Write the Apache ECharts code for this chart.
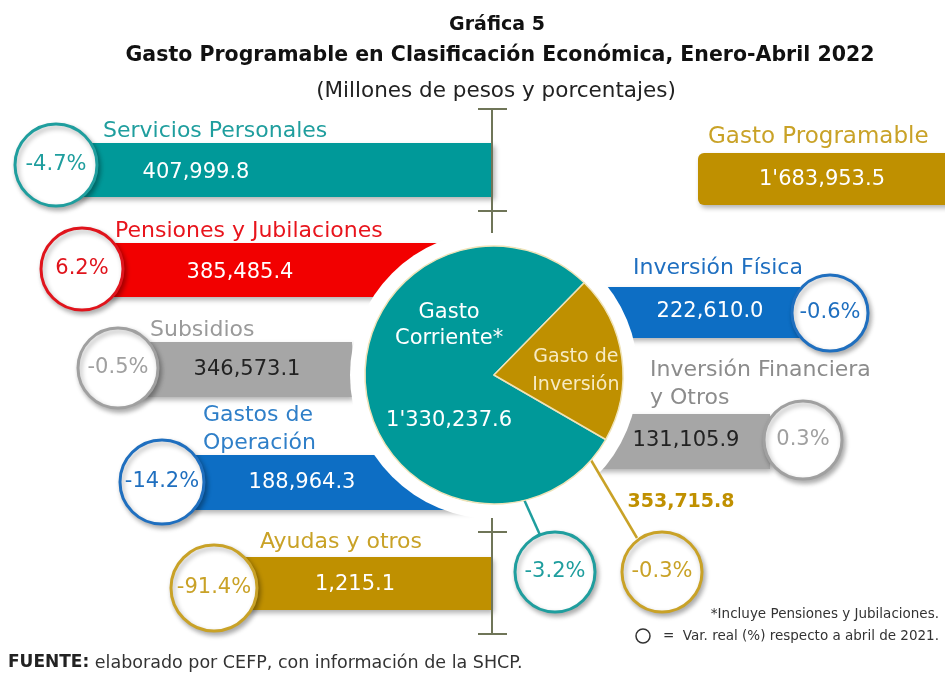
<!DOCTYPE html>
<html>
<head>
<meta charset="utf-8">
<title>Gasto Programable en Clasificación Económica</title>
<script src="https://cdn.jsdelivr.net/npm/echarts@6/dist/echarts.min.js"></script>
<style>
  html, body { margin: 0; padding: 0; background: #fff; }
  #chart { width: 945px; height: 677px; }
</style>
</head>
<body>
<div id="chart"></div>
<script>
// datos: millones de pesos y var. real (%) respecto a abril de 2021
const concepts = ['Servicios Personales', 'Pensiones y Jubilaciones', 'Subsidios', 'Gastos de\nOperación', 'Ayudas y otros', 'Inversión Física', 'Inversión Financiera\ny Otros']
const conceptValues = [407999.8, 385485.4, 346573.1, 188964.3, 1215.1, 222610.0, 131105.9]
const conceptVar = [-4.7, 6.2, -0.5, -14.2, -91.4, -0.6, 0.3]
const groupNames = ['Gasto\nCorriente*', 'Gasto de\nInversión']
const groupValues = [1330237.6, 353715.8]
const groupVar = [-3.2, -0.3]
const totalName = 'Gasto Programable'
const totalValue = 1683953.5

// posiciones de las etiquetas (px)
const barBox = [[60, 143, 433, 54], [90, 243, 390, 54], [130, 342, 222, 55], [180, 455, 290, 55], [230, 557, 262, 53], [560, 287, 240, 51], [560, 414, 210, 55]]
const circlePos = [[56, 165, 41], [82, 269, 41], [118, 368, 40], [162, 482, 42], [214, 588, 43], [830, 313, 38], [803, 440, 39]]
const titlePos = [[103, 131], [115, 231], [150, 330], [203, 429], [260, 542], [633, 268], [650, 384]]
const valuePos = [[196, 173], [240, 273], [247, 370], [302, 483], [355, 585], [710, 312], [686, 441]]
const palette = ['#009999', '#f20000', '#a6a6a6', '#0d6ec4', '#bf9000', '#0d6ec4', '#a6a6a6']
const titleColors = ['#1f9e9e', '#e8141c', '#9a9a9a', '#2f7fc8', '#c9a227', '#1f6fc0', '#8c8c8c']
const valueColors = ['#fff', '#fff', '#222', '#fff', '#fff', '#fff', '#222']
const ringColors = ['#1f9e9e', '#e0141c', '#a0a0a0', '#1f6fbf', '#c9a227', '#1f6fbf', '#a0a0a0']

const FONT = 'DejaVu Sans'
const PIE_C = [494, 375]

const fmtNum = (v) => {
  const [int, dec] = v.toFixed(1).split('.')
  const parts = int.replace(/\B(?=(\d{3})+(?!\d))/g, ',').split(',')
  let s = parts.join(',')
  if (parts.length > 2) s = parts.slice(0, -2).join("'") + "'" + parts.slice(-2).join(',')
  return s + '.' + dec
}
const fmtPct = (v) => v.toFixed(1) + '%'

const shadow = { shadowBlur: 5, shadowOffsetX: 2, shadowOffsetY: 3, shadowColor: 'rgba(0,0,0,0.3)' }

function txt (x, y, text, color, size, opts) {
  return Object.assign({
    type: 'text', z: 7, x: x, y: y,
    style: Object.assign({ text: text, fill: color, fontSize: size, fontFamily: FONT, textAlign: 'center', textVerticalAlign: 'middle' }, (opts && opts.style) || {})
  }, (opts && opts.el) || {})
}

function ring (cx, cy, r, color, label) {
  return [
    { type: 'circle', z: 6, shape: { cx: cx, cy: cy, r: r }, style: Object.assign({ fill: '#fff', stroke: color, lineWidth: 3 }, shadow) },
    txt(cx, cy, label, color, 21)
  ]
}

const elements = []
concepts.forEach((name, i) => {
  const b = barBox[i]
  const c = circlePos[i]
  elements.push({ type: 'rect', z: 0, shape: { x: b[0], y: b[1], width: b[2], height: b[3] }, style: Object.assign({ fill: palette[i] }, shadow) })
  elements.push(txt(valuePos[i][0], valuePos[i][1], fmtNum(conceptValues[i]), valueColors[i], 21))
  elements.push(txt(titlePos[i][0], titlePos[i][1], name, titleColors[i], 22, { style: { textAlign: 'left', lineHeight: 28 } }))
  elements.push(...ring(c[0], c[1], c[2], ringColors[i], fmtPct(conceptVar[i])))
})

// anillo blanco alrededor del pastel
elements.push({ type: 'circle', z: 1, shape: { cx: PIE_C[0], cy: PIE_C[1], r: 144 }, style: { fill: '#fff' } })

// corchetes verticales
const bracketColor = '#6f7558'
;[[108, 233, 109, 211], [518, 635, 532, 634]].forEach(([y1, y2, t1, t2]) => {
  elements.push({ type: 'line', z: 2, shape: { x1: 492, y1: y1, x2: 492, y2: y2 }, style: { stroke: bracketColor, lineWidth: 2 } })
  elements.push({ type: 'line', z: 2, shape: { x1: 478, y1: t1, x2: 507, y2: t1 }, style: { stroke: bracketColor, lineWidth: 2 } })
  elements.push({ type: 'line', z: 2, shape: { x1: 478, y1: t2, x2: 507, y2: t2 }, style: { stroke: bracketColor, lineWidth: 2 } })
})

// gasto programable
elements.push({ type: 'rect', z: 0, shape: { x: 698, y: 153, width: 270, height: 52, r: 6 }, style: Object.assign({ fill: '#bf9000' }, shadow) })
elements.push(txt(822, 180, fmtNum(totalValue), '#fff', 21))
elements.push(txt(708, 137, totalName, '#c9a227', 23, { style: { textAlign: 'left' } }))

// llamadas de los grupos
const groupColors = ['#1f9e9e', '#c9a227']
const groupRing = [[555, 572, 40], [662, 572, 40]]
const leaders = [[522, 495, 540, 535], [588, 455, 637, 538]]
groupRing.forEach((g, i) => {
  const l = leaders[i]
  elements.push({ type: 'line', z: 1.5, shape: { x1: l[0], y1: l[1], x2: l[2], y2: l[3] }, style: { stroke: groupColors[i], lineWidth: 2.5 } })
  elements.push(...ring(g[0], g[1], g[2], groupColors[i], fmtPct(groupVar[i])))
})
elements.push(txt(681, 502, fmtNum(groupValues[1]), '#c09000', 19, { style: { fontWeight: 'bold' } }))

// notas
elements.push(txt(939, 614, '*Incluye Pensiones y Jubilaciones.', '#333', 13.5, { style: { textAlign: 'right' } }))
elements.push(txt(939, 636, '=  Var. real (%) respecto a abril de 2021.', '#333', 13.5, { style: { textAlign: 'right' } }))
elements.push({ type: 'circle', z: 7, shape: { cx: 643, cy: 636, r: 7 }, style: { fill: 'none', stroke: '#333', lineWidth: 1.5 } })
elements.push({
  type: 'text', z: 7, x: 8, y: 663,
  style: {
    text: '{b|FUENTE:} elaborado por CEFP, con información de la SHCP.',
    rich: { b: { fontWeight: 'bold', fontSize: 17, fontFamily: FONT, fill: '#222' } },
    fill: '#333', fontSize: 17.5, fontFamily: FONT, textVerticalAlign: 'middle'
  }
})

const chart = echarts.init(document.getElementById('chart'))
chart.setOption({
  animation: false,
  backgroundColor: '#fff',
  title: [
    { text: 'Gráfica 5', left: 492, textAlign: 'center', top: 11, textStyle: { fontFamily: FONT, fontWeight: 'bold', fontSize: 19, color: '#111' } },
    { text: 'Gasto Programable en Clasificación Económica, Enero-Abril 2022', left: 495, textAlign: 'center', top: 40, textStyle: { fontFamily: FONT, fontWeight: 'bold', fontSize: 20.5, color: '#111' } },
    { text: '(Millones de pesos y porcentajes)', left: 491, textAlign: 'center', top: 75, textStyle: { fontFamily: FONT, fontWeight: 'normal', fontSize: 21.5, color: '#222' } }
  ],
  graphic: { elements: elements },
  series: [{
    type: 'pie',
    center: PIE_C,
    radius: 129,
    startAngle: -30,
    silent: true,
    itemStyle: { borderColor: '#efe3b8', borderWidth: 1.5 },
    label: {
      show: true,
      position: 'inside',
      fontFamily: FONT,
      formatter: (p) => {
        if (p.dataIndex === 0) return '{a|Gasto}\n{a|Corriente*}\n{g|}\n{a|' + fmtNum(p.value) + '}'
        return p.name.split('\n').map(s => '{c|' + s + '}').join('\n')
      },
      rich: {
        a: { color: '#fff', fontSize: 21, fontFamily: FONT, lineHeight: 26 },
        g: { height: 56 },
        c: { color: '#f7ebc4', fontSize: 19, fontFamily: FONT, lineHeight: 28 }
      }
    },
    labelLine: { show: false },
    data: groupNames.map((n, i) => ({
      name: n,
      value: groupValues[i],
      itemStyle: { color: i === 0 ? '#009999' : '#bf9000' },
      label: { offset: i === 0 ? [22, -18] : [15, 5] }
    }))
  }]
})
</script>
</body>
</html>
